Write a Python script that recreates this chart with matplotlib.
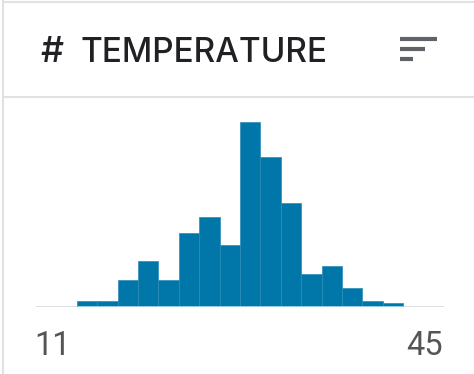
import numpy as np
import matplotlib
matplotlib.use("Agg")
import matplotlib.pyplot as plt
from matplotlib.lines import Line2D

plt.rcParams["font.family"] = ["Inter", "DejaVu Sans"]

# column summary data
column_name = "TEMPERATURE"
x_min, x_max = 11, 45
n_bins = 20
counts = [0, 0, 2.4, 2.4, 11.7, 20, 11.7, 31.8, 38.9, 27,
          80, 65, 44.8, 14.2, 17.8, 8.2, 2.4, 1.8, 0, 0]

W, H = 474, 374
BAR_COLOR = "#0077a8"
BORDER = "#e2e2e2"

fig = plt.figure(figsize=(W / 100, H / 100), dpi=100)
fig.patch.set_facecolor("white")


def fx(px):
    return px / W


def fy(py):
    return 1 - py / H


# card outline and header divider
for xs, ys in [((3, W), (2, 2)), ((3, 3), (0, H)), ((3, W), (97, 97))]:
    fig.add_artist(Line2D([fx(x) for x in xs], [fy(y) for y in ys],
                          color=BORDER, lw=1.5, transform=fig.transFigure))

# header
fig.text(fx(40), fy(62), "#", fontsize=26, fontweight="medium",
         color="#202124", va="baseline")
fig.text(fx(81), fy(62), column_name, fontsize=24, fontweight="medium",
         color="#202124", va="baseline")

# sort icon
for y, x2 in [(39, 437), (49, 425), (59, 413)]:
    fig.add_artist(Line2D([fx(400), fx(x2)], [fy(y), fy(y)], color="#5f6368",
                          lw=3, solid_capstyle="butt",
                          transform=fig.transFigure))

# histogram
left, right, base, top = 36, 444, 307, 122
ax = fig.add_axes([fx(left), fy(base), fx(right - left), (base - top) / H])
edges = np.linspace(x_min, x_max, n_bins + 1)
ax.bar(edges[:-1], counts, width=np.diff(edges), align="edge",
       color=BAR_COLOR, edgecolor="#2a8cb8", linewidth=0.5, zorder=2)
ax.axhline(0, color="#dadce0", lw=2, zorder=1)
nz = [i for i, c in enumerate(counts) if c > 0]
ax.hlines(0, edges[nz[0]], edges[nz[-1] + 1], color="#a8d8ee", lw=2, zorder=3)
ax.set_xlim(x_min, x_max)
ax.set_ylim(0, max(counts))
ax.axis("off")

# range labels
fig.text(fx(34), fy(355), str(x_min), fontsize=23.5, family="Roboto",
         color="#555555", va="baseline", ha="left")
fig.text(fx(443), fy(355), str(x_max), fontsize=23.5, family="Roboto",
         color="#555555", va="baseline", ha="right")

fig.savefig("out.png", dpi=100, facecolor="white")
